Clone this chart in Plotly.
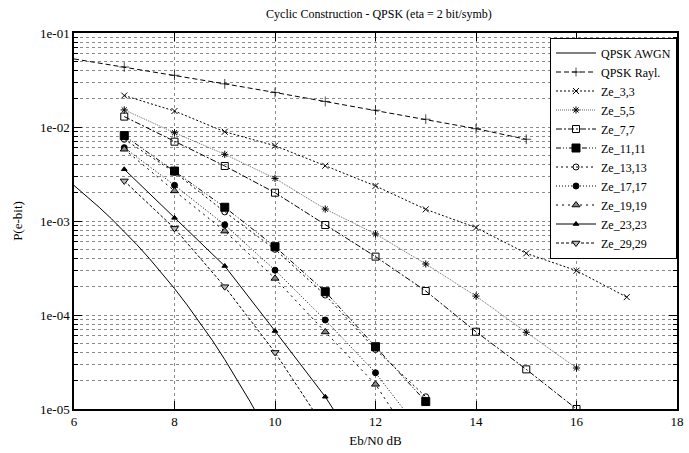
import plotly.graph_objects as go

# ---------------- data ----------------
awgn_x = [6.0, 6.25, 6.5, 6.75, 7.0, 7.25, 7.5, 7.75, 8.0, 8.25, 8.5, 8.75, 9.0, 9.25, 9.5, 9.75, 10.0]
awgn_y = [2.39e-3, 1.84e-3, 1.40e-3, 1.05e-3, 7.73e-4, 5.61e-4, 3.99e-4, 2.78e-4, 1.91e-4,
          1.28e-4, 8.4e-5, 5.4e-5, 3.36e-5, 2.05e-5, 1.21e-5, 6.97e-6, 3.87e-6]

rayl_x = [6, 7, 8, 9, 10, 11, 12, 13, 14, 15]
rayl_y = [0.053, 0.0435, 0.0355, 0.0288, 0.0233, 0.0187, 0.0151, 0.0121, 0.0096, 0.0074]

ze33_x = [7, 8, 9, 10, 11, 12, 13, 14, 15, 16, 17]
ze33_y = [0.0216, 0.0148, 0.0089, 0.00632, 0.00387, 0.00236, 0.00133, 8.5e-4, 4.53e-4, 2.96e-4, 1.55e-4]

ze55_x = [7, 8, 9, 10, 11, 12, 13, 14, 15, 16]
ze55_y = [0.0152, 0.00869, 0.00512, 0.00284, 0.00134, 7.28e-4, 3.49e-4, 1.59e-4, 6.55e-5, 2.73e-5]

ze77_x = [7, 8, 9, 10, 11, 12, 13, 14, 15, 16]
ze77_y = [0.0129, 0.00698, 0.00385, 0.0020, 9.06e-4, 4.18e-4, 1.80e-4, 6.64e-5, 2.64e-5, 1.0e-5]

ze1111_x = [7, 8, 9, 10, 11, 12, 13]
ze1111_y = [0.0081, 0.0034, 0.0014, 5.33e-4, 1.77e-4, 4.6e-5, 1.2e-5]

ze1313_x = [7, 8, 9, 10, 11, 12, 13]
ze1313_y = [0.0074, 0.0033, 0.00125, 5.0e-4, 1.63e-4, 4.3e-5, 1.35e-5]

ze1717_x = [7, 8, 9, 10, 11, 12, 13]
ze1717_y = [0.00603, 0.0024, 9.1e-4, 3.0e-4, 8.85e-5, 2.43e-5, 4.9e-6]

ze1919_x = [7, 8, 9, 10, 11, 12, 13]
ze1919_y = [0.0058, 0.00209, 7.8e-4, 2.45e-4, 6.6e-5, 1.83e-5, 2.8e-6]

ze2323_x = [7, 8, 9, 10, 11, 12]
ze2323_y = [0.00355, 1.08e-3, 3.32e-4, 6.76e-5, 1.35e-5, 2.0e-6]

ze2929_x = [7, 8, 9, 10, 11]
ze2929_y = [0.00267, 8.35e-4, 2.0e-4, 4.0e-5, 6.2e-6]

x_ticks = [6, 8, 10, 12, 14, 16, 18]
y_ticks = [1e-5, 1e-4, 1e-3, 1e-2, 1e-1]
y_tick_labels = ["1e-05", "1e-04", "1e-03", "1e-02", "1e-01"]
y_minor = [m * 10.0 ** e for e in range(-5, -1) for m in range(2, 10)]

title_text = "Cyclic Construction - QPSK (eta = 2 bit/symb)"
x_title = "Eb/N0 dB"
y_title = "P(e-bit)"

# ---------------- figure ----------------
FONT = "'Liberation Serif', 'Times New Roman', serif"
fig = go.Figure()

def add(name, xs, ys, dash, symbol, size=6, color="black", lw=1, mcolor="black",
        mline=1, sizes=None, mode="lines+markers"):
    fig.add_trace(go.Scatter(
        x=xs, y=ys, name=name, mode=mode,
        line=dict(color=color, width=lw, dash=dash),
        marker=dict(symbol=symbol, size=sizes if sizes is not None else size,
                    color=mcolor, line=dict(color="black", width=mline)),
        cliponaxis=True,
    ))

add("QPSK AWGN", awgn_x, awgn_y, "solid", "circle", mode="lines")
add("QPSK Rayl.", rayl_x, rayl_y, "5px,3px", "cross-thin-open",
    sizes=[0] + [7] * (len(rayl_x) - 1))
add("Ze_3,3", ze33_x, ze33_y, "2px,2px", "x-thin-open", size=6)
add("Ze_5,5", ze55_x, ze55_y, "1px,1px", "asterisk-open", size=6, color="#666")
add("Ze_7,7", ze77_x, ze77_y, "6px,2px,2px,2px", "square-open", size=7)
add("Ze_11,11", ze1111_x, ze1111_y, "5px,2px,1px,2px,1px,2px", "square", size=8)
add("Ze_13,13", ze1313_x, ze1313_y, "2px,3px", "circle-open", size=6)
add("Ze_17,17", ze1717_x, ze1717_y, "1px,2px", "circle", size=6)
add("Ze_19,19", ze1919_x, ze1919_y, "2px,4px", "triangle-up", size=7, mcolor="#888")
add("Ze_23,23", ze2323_x, ze2323_y, "solid", "triangle-up", size=5)
add("Ze_29,29", ze2929_x, ze2929_y, "3px,2px", "triangle-down", size=7, mcolor="#bbb")

grid_col = "#8a8a8a"
fig.update_layout(
    width=689, height=453,
    paper_bgcolor="white", plot_bgcolor="white",
    margin=dict(l=74, r=5, t=33, b=44),
    font=dict(family=FONT, size=13, color="black"),
    title=dict(text=title_text, x=0.55, xanchor="center", y=0.97, yanchor="middle",
               font=dict(family=FONT, size=12)),
    showlegend=True,
    legend=dict(x=1.0, xanchor="right", y=0.988, yanchor="top",
                bgcolor="white", bordercolor="black", borderwidth=1,
                font=dict(family=FONT, size=12), tracegroupgap=0,
                itemwidth=40),
    xaxis=dict(range=[6, 18], tickvals=x_ticks, ticks="inside", ticklen=8,
               tickcolor="black", mirror="ticks", showline=True, linecolor="black",
               linewidth=1.5, showgrid=True, gridcolor=grid_col, griddash="dot",
               gridwidth=1, zeroline=False,
               title=dict(text=x_title, font=dict(family=FONT, size=13), standoff=8)),
    yaxis=dict(type="log", range=[-5, -1], tickmode="array", tickvals=y_ticks,
               ticktext=y_tick_labels, ticks="inside", ticklen=8, tickcolor="black",
               mirror="ticks", showline=True, linecolor="black", linewidth=1.5,
               showgrid=True, gridcolor=grid_col, griddash="dot", gridwidth=1,
               zeroline=False,
               minor=dict(tickmode="array", tickvals=y_minor, ticks="inside", ticklen=4,
                          tickcolor="black", showgrid=True, gridcolor=grid_col,
                          griddash="dot", gridwidth=1),
               title=dict(text=y_title, font=dict(family=FONT, size=13), standoff=14)),
)

fig.write_html("out.html", config={"displayModeBar": False},
               post_script="document.body.style.margin='0';document.body.style.overflow='hidden';")
